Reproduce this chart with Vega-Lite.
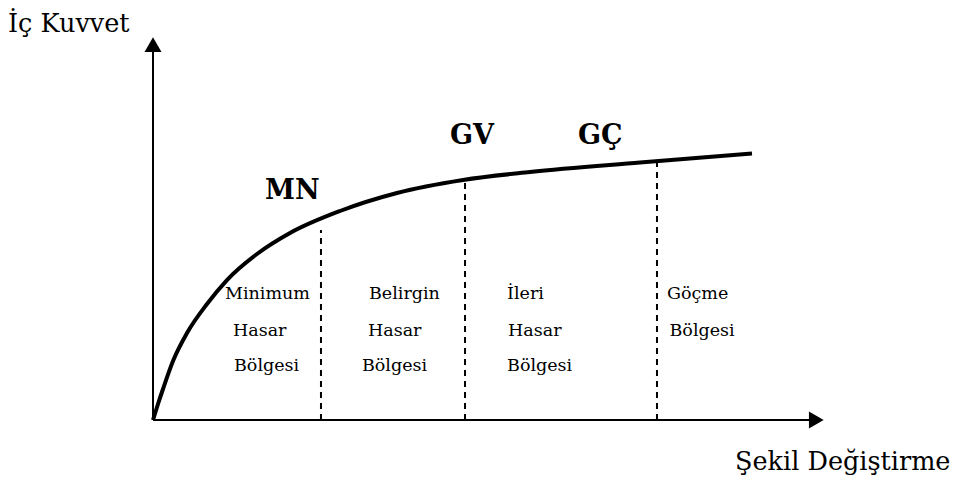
{
  "$schema": "https://vega.github.io/schema/vega-lite/v6.json",
  "width": 955,
  "height": 483,
  "autosize": {"type": "fit", "contains": "padding"},
  "padding": 0,
  "background": "white",
  "config": {"view": {"stroke": null}},
  "datasets": {
    "curve": [
      {"d": 0, "f": 0},
      {"d": 0.746, "f": 4.21},
      {"d": 1.493, "f": 8.16},
      {"d": 2.985, "f": 15.53},
      {"d": 5.075, "f": 22.89},
      {"d": 8.06, "f": 30.53},
      {"d": 11.04, "f": 36.84},
      {"d": 15.52, "f": 43.68},
      {"d": 20.45, "f": 49.21},
      {"d": 27.91, "f": 55.0},
      {"d": 36.42, "f": 59.74},
      {"d": 46.27, "f": 63.16},
      {"d": 56.27, "f": 65.26},
      {"d": 72.69, "f": 67.76},
      {"d": 89.4, "f": 70.13}
    ],
    "limits": [
      {"d": 25.07, "f0": 0, "f1": 50.0},
      {"d": 46.57, "f0": 0, "f1": 63.16},
      {"d": 75.22, "f0": 0, "f1": 68.0}
    ],
    "axesV": [{"d": 0, "f0": 0, "f1": 96.9}],
    "axesH": [{"d0": 0, "d1": 98.0, "f": 0}],
    "arrowUp": [{"d": 0, "f": 98.8}],
    "arrowRight": [{"d": 99.0, "f": 0}],
    "axisTitles": [
      {"d": -21.64, "f": 102.1, "label": "İç Kuvvet"},
      {"d": 86.87, "f": -13.16, "label": "Şekil Değiştirme"}
    ],
    "points": [
      {"d": 16.72, "f": 58.16, "label": "MN"},
      {"d": 44.33, "f": 72.63, "label": "GV"},
      {"d": 63.43, "f": 72.63, "label": "GÇ"}
    ],
    "zones": [
      {"d": 10.75, "f": 31.84, "label": "Minimum"},
      {"d": 11.94, "f": 22.11, "label": "Hasar"},
      {"d": 12.09, "f": 12.89, "label": "Bölgesi"},
      {"d": 32.24, "f": 31.84, "label": "Belirgin"},
      {"d": 32.09, "f": 22.11, "label": "Hasar"},
      {"d": 31.19, "f": 12.89, "label": "Bölgesi"},
      {"d": 52.84, "f": 31.84, "label": "İleri"},
      {"d": 53.0, "f": 22.11, "label": "Hasar"},
      {"d": 52.84, "f": 12.89, "label": "Bölgesi"},
      {"d": 76.72, "f": 31.84, "label": "Göçme"},
      {"d": 77.09, "f": 22.11, "label": "Bölgesi"}
    ]
  },
  "layer": [
    {
      "data": {"name": "axesV"},
      "mark": {"type": "rule", "color": "black", "strokeWidth": 2},
      "encoding": {
        "x": {"field": "d", "type": "quantitative", "scale": {"domain": [-22.836, 119.7], "nice": false, "zero": false}, "axis": null},
        "y": {"field": "f0", "type": "quantitative", "scale": {"domain": [-16.58, 110.53], "nice": false, "zero": false}, "axis": null},
        "y2": {"field": "f1"}
      }
    },
    {
      "data": {"name": "axesH"},
      "mark": {"type": "rule", "color": "black", "strokeWidth": 2},
      "encoding": {
        "x": {"field": "d0", "type": "quantitative"},
        "x2": {"field": "d1"},
        "y": {"field": "f", "type": "quantitative"}
      }
    },
    {
      "data": {"name": "arrowUp"},
      "mark": {"type": "point", "shape": "triangle-up", "filled": true, "color": "black", "size": 289, "opacity": 1},
      "encoding": {
        "x": {"field": "d", "type": "quantitative"},
        "y": {"field": "f", "type": "quantitative"}
      }
    },
    {
      "data": {"name": "arrowRight"},
      "mark": {"type": "point", "shape": "triangle-right", "filled": true, "color": "black", "size": 289, "opacity": 1},
      "encoding": {
        "x": {"field": "d", "type": "quantitative"},
        "y": {"field": "f", "type": "quantitative"}
      }
    },
    {
      "data": {"name": "limits"},
      "mark": {"type": "rule", "color": "black", "strokeWidth": 2, "strokeDash": [6, 5]},
      "encoding": {
        "x": {"field": "d", "type": "quantitative"},
        "y": {"field": "f0", "type": "quantitative"},
        "y2": {"field": "f1"}
      }
    },
    {
      "data": {"name": "curve"},
      "mark": {"type": "line", "color": "black", "strokeWidth": 4, "interpolate": "monotone"},
      "encoding": {
        "x": {"field": "d", "type": "quantitative"},
        "y": {"field": "f", "type": "quantitative"}
      }
    },
    {
      "data": {"name": "axisTitles"},
      "mark": {"type": "text", "font": "DejaVu Serif", "fontSize": 25.5, "align": "left", "baseline": "alphabetic", "color": "black"},
      "encoding": {
        "x": {"field": "d", "type": "quantitative"},
        "y": {"field": "f", "type": "quantitative"},
        "text": {"field": "label"}
      }
    },
    {
      "data": {"name": "points"},
      "mark": {"type": "text", "font": "DejaVu Serif", "fontSize": 27, "fontWeight": "bold", "align": "left", "baseline": "alphabetic", "color": "black"},
      "encoding": {
        "x": {"field": "d", "type": "quantitative"},
        "y": {"field": "f", "type": "quantitative"},
        "text": {"field": "label"}
      }
    },
    {
      "data": {"name": "zones"},
      "mark": {"type": "text", "font": "DejaVu Serif", "fontSize": 17.5, "align": "left", "baseline": "alphabetic", "color": "black"},
      "encoding": {
        "x": {"field": "d", "type": "quantitative"},
        "y": {"field": "f", "type": "quantitative"},
        "text": {"field": "label"}
      }
    }
  ]
}
